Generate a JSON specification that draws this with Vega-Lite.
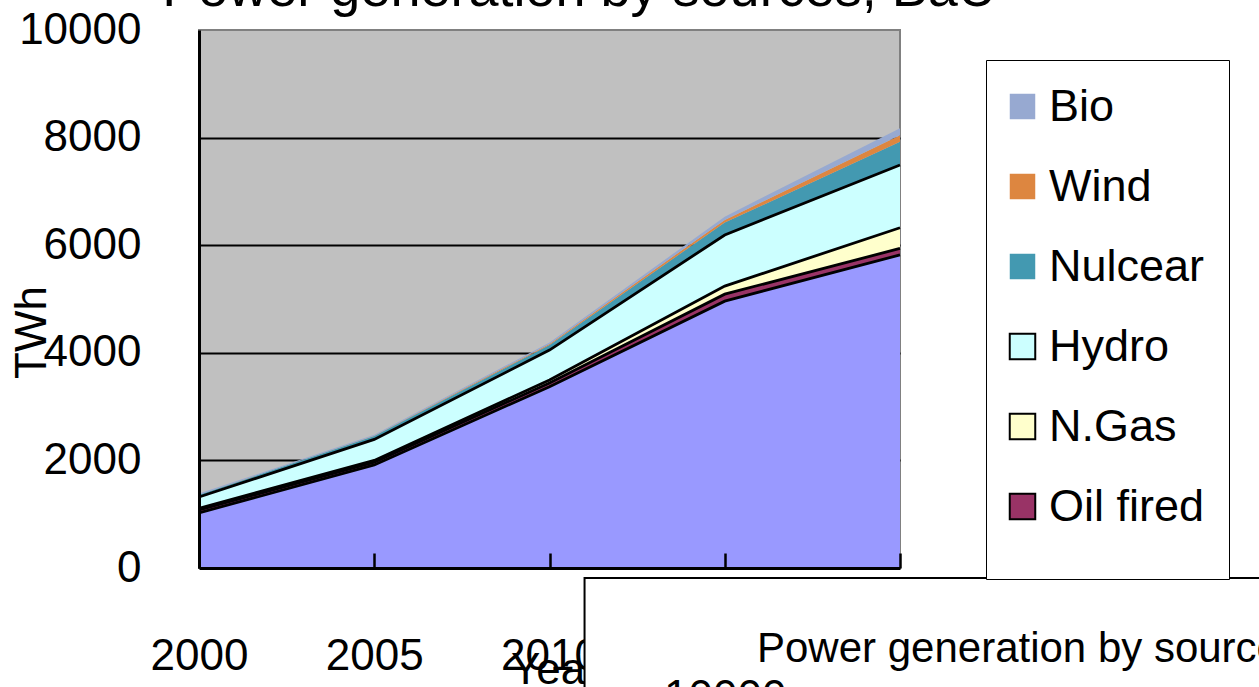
{
  "$schema": "https://vega.github.io/schema/vega-lite/v6.json",
  "width": 701,
  "height": 538,
  "autosize": {"type": "none"},
  "padding": {"left": 199, "top": 30, "right": 359, "bottom": 119},
  "background": "white",
  "config": {
    "font": "Liberation Sans",
    "view": {"fill": "#C0C0C0", "stroke": "#808080", "strokeWidth": 2}
  },
  "title": {
    "text": "Power generation by sources, BaU",
    "fontSize": 54,
    "fontWeight": "normal",
    "color": "black",
    "anchor": "middle",
    "frame": "group",
    "dx": 30,
    "dy": 54,
    "baseline": "alphabetic",
    "offset": 2
  },
  "datasets": {
    "gen": [
      {"year": 2000, "source": "Coal", "twh": 1025},
      {"year": 2000, "source": "Oil fired", "twh": 55},
      {"year": 2000, "source": "N.Gas", "twh": 30},
      {"year": 2000, "source": "Hydro", "twh": 210},
      {"year": 2000, "source": "Nulcear", "twh": 40},
      {"year": 2000, "source": "Wind", "twh": 3},
      {"year": 2000, "source": "Bio", "twh": 20},
      {"year": 2005, "source": "Coal", "twh": 1915},
      {"year": 2005, "source": "Oil fired", "twh": 50},
      {"year": 2005, "source": "N.Gas", "twh": 35},
      {"year": 2005, "source": "Hydro", "twh": 390},
      {"year": 2005, "source": "Nulcear", "twh": 65},
      {"year": 2005, "source": "Wind", "twh": 5},
      {"year": 2005, "source": "Bio", "twh": 15},
      {"year": 2010, "source": "Coal", "twh": 3370},
      {"year": 2010, "source": "Oil fired", "twh": 70},
      {"year": 2010, "source": "N.Gas", "twh": 55},
      {"year": 2010, "source": "Hydro", "twh": 555},
      {"year": 2010, "source": "Nulcear", "twh": 95},
      {"year": 2010, "source": "Wind", "twh": 20},
      {"year": 2010, "source": "Bio", "twh": 25},
      {"year": 2015, "source": "Coal", "twh": 4960},
      {"year": 2015, "source": "Oil fired", "twh": 130},
      {"year": 2015, "source": "N.Gas", "twh": 150},
      {"year": 2015, "source": "Hydro", "twh": 950},
      {"year": 2015, "source": "Nulcear", "twh": 230},
      {"year": 2015, "source": "Wind", "twh": 50},
      {"year": 2015, "source": "Bio", "twh": 60},
      {"year": 2020, "source": "Coal", "twh": 5820},
      {"year": 2020, "source": "Oil fired", "twh": 120},
      {"year": 2020, "source": "N.Gas", "twh": 385},
      {"year": 2020, "source": "Hydro", "twh": 1165},
      {"year": 2020, "source": "Nulcear", "twh": 435},
      {"year": 2020, "source": "Wind", "twh": 120},
      {"year": 2020, "source": "Bio", "twh": 130}
    ]
  },
  "layer": [
    {
      "data": {"name": "gen"},
      "transform": [
        {"calculate": "indexof(['Coal','Oil fired','N.Gas','Hydro','Nulcear','Wind','Bio'], datum.source)", "as": "idx"},
        {"stack": "twh", "groupby": ["year"], "sort": [{"field": "idx", "order": "ascending"}], "as": ["y0", "y1"]}
      ],
      "mark": {"type": "area", "opacity": 1, "strokeWidth": 0},
      "encoding": {
        "x": {
          "field": "year", "type": "quantitative",
          "scale": {"domain": [2000, 2020], "nice": false, "zero": false},
          "axis": {
            "orient": "bottom", "zindex": 0, "values": [2000, 2005, 2010, 2015, 2020], "format": "d",
            "ticks": false, "domain": false, "grid": false,
            "labelFontSize": 44, "labelColor": "black", "labelPadding": 66, "labelFlush": false, "labelOverlap": false,
            "title": "Year", "titleFontSize": 44, "titleFontWeight": "normal", "titleColor": "black",
            "titleBaseline": "top", "titleAlign": "center", "titleX": 356, "titleY": 80
          }
        },
        "y": {
          "field": "y1", "type": "quantitative",
          "scale": {"domain": [0, 10000], "nice": false},
          "axis": {
            "orient": "left", "zindex": 0, "values": [2000, 4000, 6000, 8000],
            "grid": true, "gridColor": "black", "gridWidth": 2, "gridOpacity": 1,
            "labels": false, "ticks": false, "domain": false, "title": null
          }
        },
        "y2": {"field": "y0"},
        "color": {
          "field": "source", "type": "nominal",
          "scale": {
            "domain": ["Bio", "Wind", "Nulcear", "Hydro", "N.Gas", "Oil fired", "Coal"],
            "range": ["#97A9D1", "#DD8640", "#4399B1", "#CCFFFF", "#FFFFCC", "#993366", "#9999FF"]
          },
          "legend": {
            "orient": "none", "legendX": 787, "legendY": 30,
            "values": ["Bio", "Wind", "Nulcear", "Hydro", "N.Gas", "Oil fired"],
            "title": "\u00a0",
            "titleOrient": "bottom", "titleFontSize": 20, "titlePadding": 5,
            "strokeColor": "black", "fillColor": "white", "padding": 24,
            "symbolType": "square", "symbolSize": 650, "symbolStrokeWidth": 2, "symbolOpacity": 1, "symbolOffset": -10,
            "labelFontSize": 45, "labelColor": "black", "labelOffset": 4, "labelLimit": 1000,
            "rowPadding": 34
          }
        },
        "stroke": {
          "field": "source", "type": "nominal",
          "scale": {
            "domain": ["Bio", "Wind", "Nulcear", "Hydro", "N.Gas", "Oil fired", "Coal"],
            "range": ["transparent", "transparent", "transparent", "black", "black", "black", "black"]
          },
          "legend": {
            "orient": "none", "legendX": 787, "legendY": 30,
            "values": ["Bio", "Wind", "Nulcear", "Hydro", "N.Gas", "Oil fired"],
            "title": "\u00a0",
            "titleOrient": "bottom", "titleFontSize": 20, "titlePadding": 5,
            "strokeColor": "black", "fillColor": "white", "padding": 24,
            "symbolType": "square", "symbolSize": 650, "symbolStrokeWidth": 2, "symbolOpacity": 1, "symbolOffset": -10,
            "labelFontSize": 45, "labelColor": "black", "labelOffset": 4, "labelLimit": 1000,
            "rowPadding": 34
          }
        }
      }
    },
    {
      "data": {"name": "gen"},
      "transform": [
        {"calculate": "indexof(['Coal','Oil fired','N.Gas','Hydro','Nulcear','Wind','Bio'], datum.source)", "as": "idx"},
        {"stack": "twh", "groupby": ["year"], "sort": [{"field": "idx", "order": "ascending"}], "as": ["y0", "y1"]},
        {"filter": "datum.idx <= 3"}
      ],
      "mark": {"type": "line", "color": "black", "strokeWidth": 2.8},
      "encoding": {
        "x": {"field": "year", "type": "quantitative", "scale": {"domain": [2000, 2020], "nice": false, "zero": false}, "axis": null},
        "y": {
          "field": "y1", "type": "quantitative",
          "scale": {"domain": [0, 10000], "nice": false},
          "axis": {
            "orient": "left", "zindex": 0, "values": [0, 2000, 4000, 6000, 8000, 10000], "format": "d",
            "labels": true, "labelFontSize": 44, "labelColor": "black", "labelPadding": 58, "labelFlush": false, "labelOverlap": false,
            "ticks": false, "domain": false, "grid": false,
            "title": "TWh", "titleFontSize": 44, "titleFontWeight": "normal", "titleColor": "black",
            "titleX": -167, "titleY": 302, "titleAngle": 270, "titleAlign": "center", "titleBaseline": "middle"
          }
        },
        "detail": {"field": "source"}
      }
    },
    {
      "data": {"values": [{}]},
      "mark": {"type": "rect", "fill": "white", "stroke": "black", "strokeWidth": 2},
      "encoding": {
        "x": {
          "datum": 2011, "type": "quantitative",
          "scale": {"domain": [2000, 2020], "nice": false, "zero": false},
          "axis": {
            "orient": "bottom", "zindex": 1, "values": [2000, 2005, 2010, 2015, 2020],
            "labels": false, "title": null, "grid": false,
            "domain": true, "domainColor": "black", "domainWidth": 3,
            "ticks": true, "tickColor": "black", "tickWidth": 2.5, "tickSize": -15
          }
        },
        "x2": {"datum": 2040},
        "y": {
          "datum": -186, "type": "quantitative",
          "scale": {"domain": [0, 10000], "nice": false},
          "axis": {
            "orient": "left", "zindex": 1, "labels": false, "ticks": false, "grid": false, "title": null,
            "domain": true, "domainColor": "black", "domainWidth": 3
          }
        },
        "y2": {"datum": -6000}
      }
    },
    {
      "data": {"values": [{}]},
      "mark": {"type": "text", "align": "left", "baseline": "alphabetic", "fontSize": 42, "color": "black"},
      "encoding": {
        "x": {"datum": 2015.92, "type": "quantitative", "scale": {"domain": [2000, 2020], "nice": false, "zero": false}, "axis": null},
        "y": {"datum": -1750, "type": "quantitative", "scale": {"domain": [0, 10000], "nice": false}, "axis": null},
        "text": {"value": "Power generation by sources, BaU"}
      }
    },
    {
      "data": {"values": [{}]},
      "mark": {"type": "text", "align": "left", "baseline": "alphabetic", "fontSize": 44, "color": "black"},
      "encoding": {
        "x": {"datum": 2013.27, "type": "quantitative", "scale": {"domain": [2000, 2020], "nice": false, "zero": false}, "axis": null},
        "y": {"datum": -2667, "type": "quantitative", "scale": {"domain": [0, 10000], "nice": false}, "axis": null},
        "text": {"value": "10000"}
      }
    }
  ],
  "resolve": {"axis": {"x": "independent", "y": "independent"}}
}
